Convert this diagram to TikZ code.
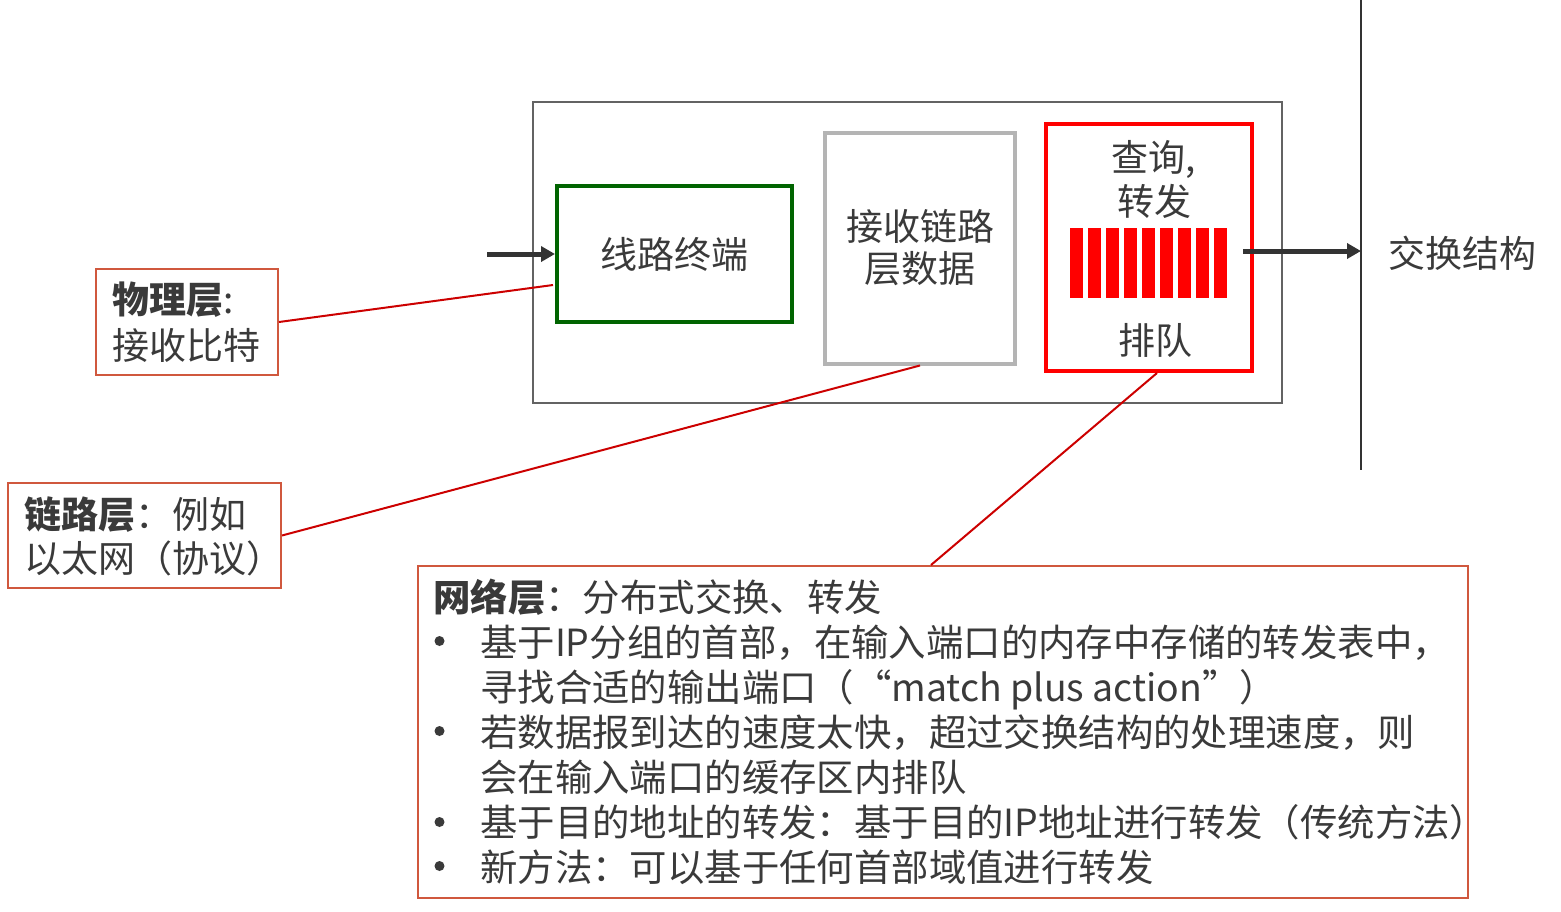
\documentclass[tikz,border=0pt]{standalone}
\usepackage{fontspec}
\setmainfont{Noto Sans CJK SC}
\usetikzlibrary{arrows.meta}
\definecolor{txt}{HTML}{3A3A3A}
\definecolor{outerg}{HTML}{636363}
\definecolor{lightg}{HTML}{B4B4B4}
\definecolor{grn}{HTML}{006400}
\definecolor{rbox}{HTML}{FF0000}
\definecolor{lbl}{HTML}{D0583E}
\definecolor{conn}{HTML}{CC0000}
\definecolor{arr}{HTML}{333333}
\begin{document}
\begin{tikzpicture}[x=1pt,y=-1pt,
  box/.style={draw, inner sep=0pt, anchor=center},
  big/.style={font=\fontsize{37}{44}\selectfont, text=txt},
  flow/.style={draw=arr, line width=5pt, -{Triangle[length=14pt,width=15pt]}},
  callout/.style={draw=conn, line width=2pt},
  labelbox/.style={box, draw=lbl, line width=2pt},
  bullet/.style={fill=txt}]
\useasboundingbox (0,0) rectangle (1561,911);
% router input port
\node[box, draw=outerg, line width=2.5pt, minimum width=749pt, minimum height=301pt] (outer) at (907.5,252.5) {};
\node[box, draw=grn, line width=4pt, minimum width=235pt, minimum height=136pt, big] (term) at (674.5,254) {线路终端};
\node[box, draw=lightg, line width=4pt, minimum width=190pt, minimum height=231pt, font=\fontsize{37}{42}\selectfont, text=txt, align=center] (link) at (920,248) {接收链路\\层数据};
\node[box, draw=rbox, line width=4pt, minimum width=206pt, minimum height=247pt] (proc) at (1149,247.5) {};
\node[big, align=center] (lookup) at (1154,179.5) {查询,\\转发};
\node[big] (queue) at (1155,340) {排队};
\node[inner sep=0pt, minimum width=157pt, minimum height=70pt] (bars) at (1148.5,263) {};
\foreach \i in {0,...,8} \fill[rbox] (1070+\i*18,228) rectangle ++(13,70);
% switch fabric
\coordinate (vtop) at (1361,0);
\coordinate (vbot) at (1361,470);
\draw[draw=arr, line width=2pt] (vtop) -- (vbot);
\node[big] (fabric) at (1462,253) {交换结构};
% flow arrows
\coordinate (in) at (487,254);
\draw[flow] (in) -- (term.west);
\coordinate (qout) at (1243,251);
\coordinate (fabin) at (1361,251);
\draw[flow] (qout) -- (fabin);
% label boxes
\node[labelbox, minimum width=182pt, minimum height=106pt] (phys) at (187,322) {};
\node[font=\fontsize{37}{46}\selectfont, text=txt, align=left, anchor=west, inner sep=0pt] (physt) at (112,322) {\textbf{物理层}:\\接收比特};
\node[labelbox, minimum width=273pt, minimum height=105pt] (linkl) at (144.5,535.5) {};
\node[big, align=left, anchor=west, inner sep=0pt] (linkt) at (24,536) {\textbf{链路层}：例如\\以太网（协议）};
\node[labelbox, minimum width=1050pt, minimum height=332pt] (net) at (943,732) {};
\node[font=\fontsize{37.4}{45}\selectfont, text=txt, align=left, anchor=west, inner sep=0pt] (nett) at (433,732) {%
\textbf{网络层}：分布式交换、转发\\
\hspace*{47pt}基于IP分组的首部，在输入端口的内存中存储的转发表中，\\
\hspace*{47pt}寻找合适的输出端口（“match plus action”）\\
\hspace*{47pt}若数据报到达的速度太快，超过交换结构的处理速度，则\\
\hspace*{47pt}会在输入端口的缓存区内排队\\
\hspace*{47pt}基于目的地址的转发：基于目的IP地址进行转发（传统方法）\\
\hspace*{47pt}新方法：可以基于任何首部域值进行转发};
\foreach \yy in {641,731,822,866} \fill[bullet] (439.5,\yy) circle (5pt);
% callout connectors
\coordinate (pA) at (553,285);
\draw[callout] (phys.east) -- (pA);
\draw[callout] (linkl.east) -- (link.south);
\draw[callout] ([xshift=-12pt]net.north) -- ([xshift=8pt]proc.south);
\end{tikzpicture}
\end{document}
